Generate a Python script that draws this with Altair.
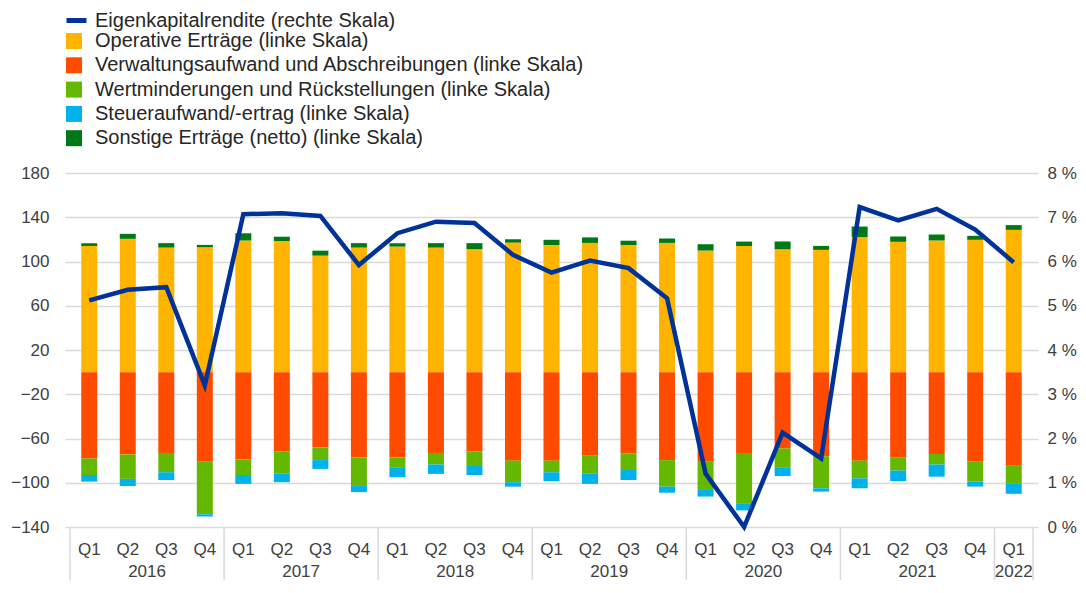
import altair as alt
import pandas as pd

# ---------------- data ----------------
quarters = ["Q1", "Q2", "Q3", "Q4"] * 6 + ["Q1"]
years = ["2016", "2017", "2018", "2019", "2020", "2021", "2022"]
year_centers = [2, 6, 10, 14, 18, 22, 24.5]
year_bounds = [0, 4, 8, 12, 16, 20, 24, 25]

operative = [114, 120.5, 112.6, 113, 119, 118.4, 105.3, 112.6, 113.5, 112.6, 111.1, 117.1,
             114.8, 116.8, 114.8, 116.8, 109.9, 114, 111.1, 110.5, 122, 117.8, 119, 119.6, 128.6]
sonstige = [2.5, 4.5, 4, 2, 6.5, 4, 4.5, 4, 3, 4, 5.5, 3,
            4.8, 5, 4, 4, 5.7, 4, 7, 3.6, 9.6, 4.8, 5.4, 3.6, 4.3]
verwaltung = [-78, -74.5, -73, -81, -79, -71.5, -68, -77, -77, -73, -71.5, -80,
              -80, -75, -73.5, -79.5, -81, -73, -69, -76, -80, -77.5, -74, -81, -84]
wertminderung = [-15, -22, -17.5, -47.5, -14, -20, -11.5, -26, -9, -10.5, -12.5, -19.5,
                 -10.5, -16.5, -15, -24, -25.5, -45.5, -17, -29, -16, -11.5, -9.5, -18, -17]
steuer = [-6, -6.5, -7, -2, -8, -8, -8, -5.5, -9, -8.5, -9, -4,
          -8, -9.5, -9, -5.5, -6, -6.5, -8, -3, -9, -9.5, -11, -4.5, -9]
roe = [5.12, 5.36, 5.42, 3.2, 7.07, 7.09, 7.03, 5.92, 6.64, 6.90, 6.87, 6.15,
       5.75, 6.02, 5.85, 5.17, 1.21, 0.0, 2.13, 1.55, 7.23, 6.93, 7.19, 6.72, 5.98]

line_name = "Eigenkapitalrendite (rechte Skala)"
bar_names = [
    "Operative Erträge (linke Skala)",
    "Verwaltungsaufwand und Abschreibungen (linke Skala)",
    "Wertminderungen und Rückstellungen (linke Skala)",
    "Steueraufwand/-ertrag (linke Skala)",
    "Sonstige Erträge (netto) (linke Skala)",
]
bar_colors = ["#FFB400", "#FF4B00", "#65B800", "#00B1EA", "#007816"]
line_color = "#003299"
bar_values = [operative, verwaltung, wertminderung, steuer, sonstige]

# ---------------- tables ----------------
n = len(quarters)
rows = []
for k, (name, vals) in enumerate(zip(bar_names, bar_values)):
    for i in range(n):
        rows.append({"idx": i + 0.5, "series": name, "value": vals[i], "ord": k})
bars_df = pd.DataFrame(rows)
roe_df = pd.DataFrame({"idx": [i + 0.5 for i in range(n)], "roe": roe, "label": line_name})
q_df = pd.DataFrame({"idx": [i + 0.5 for i in range(n)], "q": quarters})
y_df = pd.DataFrame({"pos": year_centers, "year": years})
sep_df = pd.DataFrame({"pos": year_bounds})

W, H = 973, 354
FONT = "Arial, Liberation Sans, sans-serif"
GRID = "#d9d9d9"
TXT = "#404040"
LEG = "#262626"
LEG_FS = 20

xscale = alt.Scale(domain=[0, 25], nice=False, zero=False)

bars = alt.Chart(bars_df).mark_bar(size=16).encode(
    x=alt.X("idx:Q", scale=xscale,
            axis=alt.Axis(values=list(range(26)), grid=True, labels=False, ticks=False,
                          domain=False, title=None, gridColor=GRID, gridWidth=1.5)),
    y=alt.Y("value:Q", stack="zero", scale=alt.Scale(domain=[-140, 180], nice=False, zero=False),
            axis=alt.Axis(values=list(range(-140, 181, 40)), grid=True, gridColor=GRID, gridWidth=1.5,
                          ticks=False, domain=False, title=None, labelFontSize=17, labelFont=FONT,
                          labelColor=TXT, labelPadding=16)),
    color=alt.Color("series:N", scale=alt.Scale(domain=bar_names, range=bar_colors),
                    legend=alt.Legend(orient="none", legendX=-1, legendY=-142, title=None,
                                      symbolType="square", symbolSize=256, symbolStrokeWidth=0,
                                      labelFontSize=LEG_FS, labelFont=FONT, labelColor=LEG,
                                      labelOffset=11, rowPadding=4.3, padding=0, labelLimit=900)),
    order=alt.Order("ord:Q"),
)

line = alt.Chart(roe_df).mark_line(strokeWidth=4.5).encode(
    x=alt.X("idx:Q", scale=xscale, axis=None),
    y=alt.Y("roe:Q", scale=alt.Scale(domain=[0, 8], nice=False, zero=False),
            axis=alt.Axis(orient="right", values=list(range(9)), labelExpr="datum.value + ' %'",
                          grid=False, ticks=False, domain=False, title=None, labelFontSize=17,
                          labelFont=FONT, labelColor=TXT, labelPadding=9)),
    stroke=alt.Stroke("label:N", scale=alt.Scale(domain=[line_name], range=[line_color]),
                      legend=alt.Legend(orient="none", legendX=-1, legendY=-165, title=None,
                                        symbolType="stroke", symbolSize=400, symbolStrokeWidth=5,
                                        labelFontSize=LEG_FS, labelFont=FONT, labelColor=LEG,
                                        labelOffset=6, padding=0, labelLimit=900)),
)

qtext = alt.Chart(q_df).mark_text(fontSize=17, font=FONT, color=TXT, baseline="middle").encode(
    x=alt.X("idx:Q", scale=xscale, axis=None),
    y=alt.value(H + 23),
    text="q:N",
)

ytext = alt.Chart(y_df).mark_text(fontSize=17, font=FONT, color=TXT, baseline="middle").encode(
    x=alt.X("pos:Q", scale=xscale, axis=None),
    y=alt.value(H + 44.5),
    text="year:N",
)

seps = alt.Chart(sep_df).mark_rule(color=GRID, strokeWidth=1.5).encode(
    x=alt.X("pos:Q", scale=xscale, axis=None),
    y=alt.value(H),
    y2=alt.value(H + 53),
)

chart = alt.layer(seps, bars, line, qtext, ytext).resolve_scale(y="independent").properties(
    width=W, height=H,
    padding={"left": 57, "top": 165, "right": 40, "bottom": 53},
    autosize=alt.AutoSizeParams(type="none"),
).configure_view(stroke=None)

chart.save("out.html", embed_options={"renderer": "svg", "actions": False})
